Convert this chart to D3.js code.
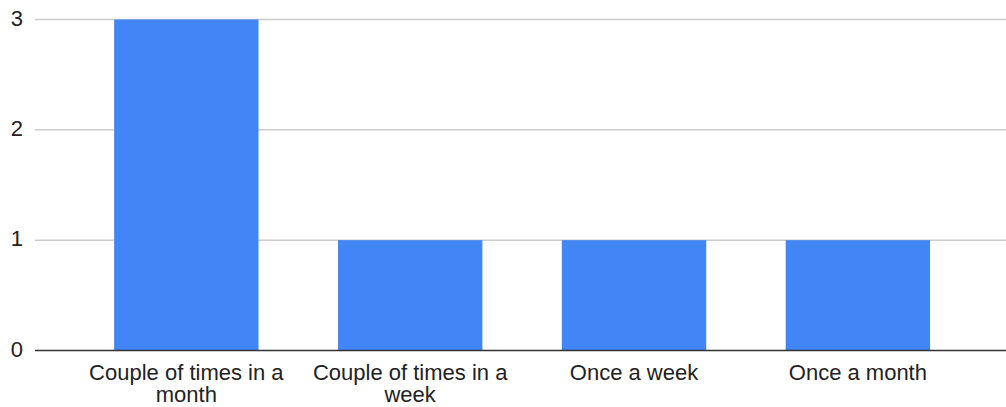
<!DOCTYPE html>
<html>
<head>
<meta charset="utf-8">
<script src="https://cdn.jsdelivr.net/npm/d3@7"></script>
<style>
  body { margin: 0; background: #fff; }
  svg text { font-family: "Liberation Sans", Arial, sans-serif; fill: #222; }
</style>
</head>
<body>
<div id="chart"></div>
<script>

var categories = ["Couple of times in a month", "Couple of times in a week", "Once a week", "Once a month"];
var counts = [3, 1, 1, 1];
var yTicks = [0, 1, 2, 3];

var width = 1006, height = 407;

var svg = d3.select("#chart")
    .append("svg")
    .attr("width", width)
    .attr("height", height);

var xScale = d3.scaleBand()
    .domain(categories)
    .range([74.4, 969.8])
    .paddingInner(0.355)
    .paddingOuter(0.1775);

var yScale = d3.scaleLinear()
    .domain([0, 3])
    .range([350.5, 19.5]);

// gridlines
svg.selectAll(".grid")
    .data(yTicks.filter(function(d) { return d > 0; }))
    .enter()
    .append("line")
    .attr("class", "grid")
    .attr("x1", 35)
    .attr("x2", width)
    .attr("y1", function(d) { return yScale(d); })
    .attr("y2", function(d) { return yScale(d); })
    .attr("stroke", "#cccccc")
    .attr("stroke-width", 1.5);

// bars
svg.selectAll(".bar")
    .data(counts)
    .enter()
    .append("rect")
    .attr("class", "bar")
    .attr("x", function(d, i) { return xScale(categories[i]); })
    .attr("width", xScale.bandwidth())
    .attr("y", function(d) { return yScale(d); })
    .attr("height", function(d) { return yScale(0) - yScale(d); })
    .attr("fill", "#4285f4");

// baseline
svg.append("line")
    .attr("x1", 35)
    .attr("x2", width)
    .attr("y1", yScale(0))
    .attr("y2", yScale(0))
    .attr("stroke", "#333333")
    .attr("stroke-width", 1.5);

// y labels
svg.selectAll(".ylabel")
    .data(yTicks)
    .enter()
    .append("text")
    .attr("class", "ylabel")
    .attr("x", 23)
    .attr("y", function(d) { return yScale(d) + 6; })
    .attr("text-anchor", "end")
    .style("font-size", "22px")
    .text(function(d) { return d; });

// x labels, wrapped
svg.selectAll(".xlabel")
    .data(categories)
    .enter()
    .append("text")
    .attr("class", "xlabel")
    .attr("x", function(d) { return xScale(d) + xScale.bandwidth() / 2; })
    .attr("y", 380)
    .attr("text-anchor", "middle")
    .style("font-size", "22px")
    .each(function(d) {
        var el = d3.select(this);
        var words = d.split(" ");
        var line = [];
        var x = el.attr("x");
        var tspan = el.append("tspan").attr("x", x).attr("dy", 0);
        words.forEach(function(w) {
            line.push(w);
            tspan.text(line.join(" "));
            if (tspan.node().getComputedTextLength() > 212 && line.length > 1) {
                line.pop();
                tspan.text(line.join(" "));
                line = [w];
                tspan = el.append("tspan").attr("x", x).attr("dy", 22).text(w);
            }
        });
    });

</script>
</body>
</html>
